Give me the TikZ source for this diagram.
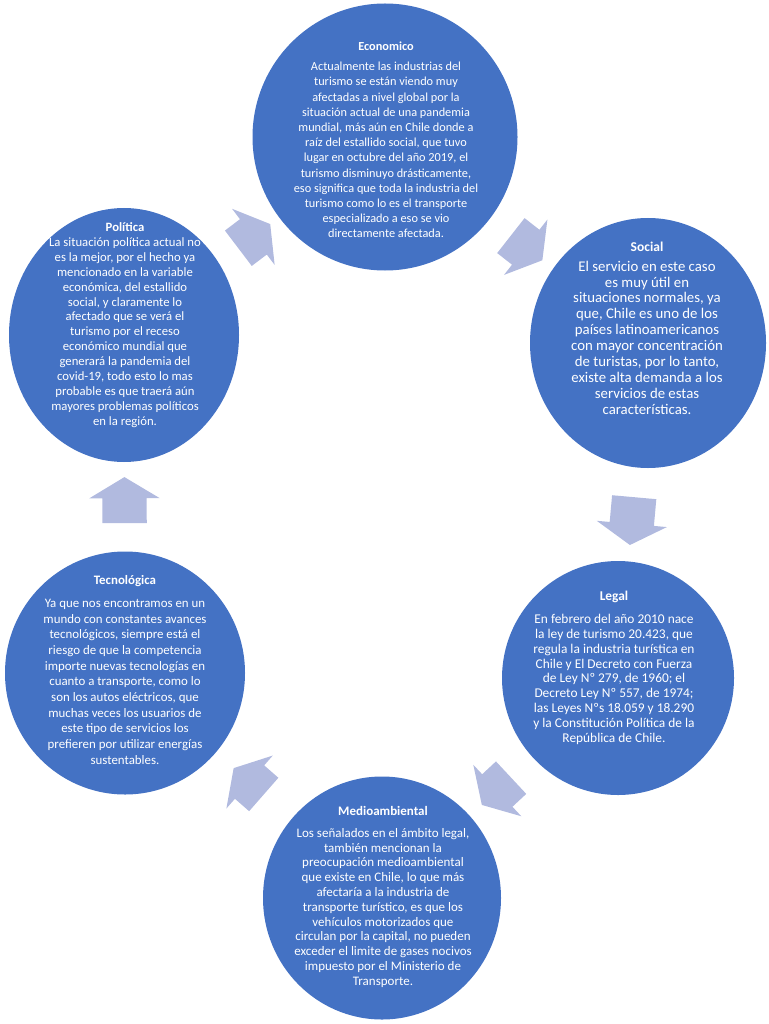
\documentclass[tikz,border=0pt]{standalone}
\usepackage{fontspec}
\setmainfont{Carlito}
\usetikzlibrary{shapes.geometric,shapes.arrows}
\definecolor{azul}{HTML}{4472C4}
\definecolor{lila}{HTML}{B1BADF}
\newcommand{\tam}[2]{\fontsize{#1}{#2}\selectfont}
\tikzset{
  circulo/.style={ellipse, fill=azul, inner sep=0pt},
  texto/.style={text=white, align=center, inner sep=0pt},
  flecha/.style={single arrow, fill=lila, inner xsep=0pt, inner ysep=22pt,
    single arrow head extend=13pt, single arrow tip angle=118,
    minimum height=40pt, sloped, allow upside down}
}

\begin{document}
\begin{tikzpicture}[x=1pt, y=-1pt]
    \useasboundingbox (0,0) rectangle (768,1024);
    \node[circulo, minimum width=265pt, minimum height=267pt] (eco) at (385,137) {};
    \node[circulo, minimum width=236pt, minimum height=250pt] (soc) at (648,343) {};
    \node[circulo, minimum width=232pt, minimum height=234pt] (leg) at (618,678) {};
    \node[circulo, minimum width=238pt, minimum height=243pt] (med) at (382,898) {};
    \node[circulo, minimum width=240pt, minimum height=243pt] (tec) at (125,673) {};
    \node[circulo, minimum width=230pt, minimum height=254pt] (pol) at (124,335) {};

    \node[texto, font=\tam{12.3}{15.2}] (eco-t) at (386,140) {\textbf{Economico}\\[4.8pt]
      Actualmente las industrias del\\ turismo se están viendo muy\\
      afectadas a nivel global por la\\ situación actual de una pandemia\\
      mundial, más aún en Chile donde a\\ raíz del estallido social, que tuvo\\
      lugar en octubre del año 2019, el\\ turismo disminuyo drásticamente,\\
      eso significa que toda la industria del\\ turismo como lo es el transporte\\
      especializado a eso se vio\\ directamente afectada.};
    \node[texto, font=\tam{14.8}{15.9}] (soc-t) at (647,328) {{\tam{13.5}{15.9}\textbf{Social}}\\[4.1pt]
      El servicio en este caso\\ es muy útil en\\ situaciones normales, ya\\
      que, Chile es uno de los\\ países latinoamericanos\\ con mayor concentración\\
      de turistas, por lo tanto,\\ existe alta demanda a los\\ servicios de estas\\
      características.};
    \node[texto, font=\tam{13.4}{14.9}] (leg-t) at (614,668) {\textbf{Legal}\\[7.8pt]
      En febrero del año 2010 nace\\ la ley de turismo 20.423, que\\
      regula la industria turística en\\ Chile y El Decreto con Fuerza\\
      de Ley Nº 279, de 1960; el\\ Decreto Ley Nº 557, de 1974;\\
      las Leyes Nºs 18.059 y 18.290\\ y la Constitución Política de la\\
      República de Chile.};
    \node[texto, font=\tam{13}{14.8}] (med-t) at (383,897) {\textbf{Medioambiental}\\[6.8pt]
      Los señalados en el ámbito legal,\\ también mencionan la\\
      preocupación medioambiental\\ que existe en Chile, lo que más\\
      afectaría a la industria de\\ transporte turístico, es que los\\
      vehículos motorizados que\\ circulan por la capital, no pueden\\
      exceder el limite de gases nocivos\\ impuesto por el Ministerio de\\
      Transporte.};
    \node[texto, font=\tam{12.9}{15.7}] (tec-t) at (125,670) {\textbf{Tecnológica}\\[7pt]
      Ya que nos encontramos en un\\ mundo con constantes avances\\
      tecnológicos, siempre está el\\ riesgo de que la competencia\\
      importe nuevas tecnologías en\\ cuanto a transporte, como lo\\
      son los autos eléctricos, que\\ muchas veces los usuarios de\\
      este tipo de servicios los\\ prefieren por utilizar energías\\
      sustentables.};
    \node[texto, font=\tam{12.7}{14.9}] (pol-t) at (125,325) {\textbf{Política}\\
      La situación política actual no\\ es la mejor, por el hecho ya\\
      mencionado en la variable\\ económica, del estallido\\
      social, y claramente lo\\ afectado que se verá el\\
      turismo por el receso\\ económico mundial que\\
      generará la pandemia del\\ covid-19, todo esto lo mas\\
      probable es que traerá aún\\ mayores problemas políticos\\
      en la región.};

    \path (eco) -- (soc) node[flecha, midway] (f1) {};
    \path (soc) -- (leg) node[flecha, midway, minimum height=48pt] (f2) {};
    \path (leg) -- (med) node[flecha, midway] (f3) {};
    \path (med) -- (tec) node[flecha, midway] (f4) {};
    \path (tec) -- (pol) node[flecha, midway, minimum height=46pt] (f5) {};
    \path (pol) -- (eco) node[flecha, midway] (f6) {};
\end{tikzpicture}
\end{document}
